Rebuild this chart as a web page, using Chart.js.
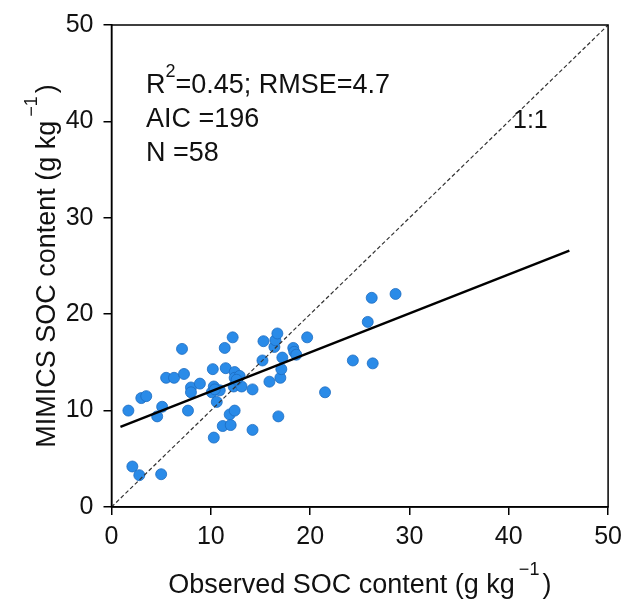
<!DOCTYPE html>
<html>
<head>
<meta charset="utf-8">
<script src="https://cdn.jsdelivr.net/npm/chart.js@4/dist/chart.umd.min.js"></script>
<style>
  html, body { margin: 0; padding: 0; background: #fff; }
  #wrap { width: 629px; height: 602px; position: relative; }
</style>
</head>
<body>
<div id="wrap"><canvas id="socChart"></canvas></div>
<script>
// observed vs MIMICS simulated SOC (g kg-1)
const observedSOC = [
  1.7, 2.1, 2.8, 3.0, 3.5, 4.6, 5.1, 5.0, 5.5, 6.3,
  7.1, 7.3, 7.7, 8.0, 8.0, 8.9, 10.1, 10.2, 10.3, 10.3,
  10.6, 10.9, 11.2, 11.4, 11.5, 11.9, 12.0, 12.2, 12.3, 12.4,
  12.4, 12.4, 12.9, 13.1, 14.2, 14.2, 15.2, 15.3, 15.9, 16.4,
  16.5, 16.7, 16.8, 17.0, 17.1, 17.2, 18.3, 18.4, 18.6, 19.7,
  21.5, 24.3, 25.8, 26.2, 26.3, 28.6, 12.6, 10.4
];
const mimicsSOC = [
  10.0, 4.2, 3.3, 11.3, 11.5, 9.4, 10.4, 3.4, 13.4, 13.4,
  16.4, 13.8, 10.0, 12.4, 11.9, 12.8, 11.9, 14.3, 12.5, 7.2,
  10.9, 12.1, 8.4, 16.5, 14.4, 9.6, 8.5, 17.6, 12.5, 14.0,
  13.4, 10.0, 13.6, 12.5, 12.2, 8.0, 15.2, 17.2, 13.0, 16.6,
  17.3, 18.0, 9.4, 13.4, 14.3, 15.5, 16.5, 16.1, 15.8, 17.6,
  11.9, 15.2, 19.2, 21.7, 14.9, 22.1, 13.2, 12.2
];

// fitted line end points and the 1:1 line
const fitX = [0.9, 46.1];
const fitY = [8.3, 26.6];
const oneToOne = [0, 50];

const axisTicks = [0, 10, 20, 30, 40, 50];
const statsLines = ['=0.45; RMSE=4.7', 'AIC =196', 'N =58'];

const FONT = "'Liberation Sans', Arial, sans-serif";

// draws text pieces, some raised as superscripts
function drawRich(ctx, parts, x, y, align, size, lift) {
  const supSize = Math.round(size * 0.68);
  const fontOf = p => (p.sup ? supSize : size) + 'px ' + FONT;
  let total = 0;
  parts.forEach(p => {
    ctx.font = fontOf(p);
    total += ctx.measureText(p.t).width + (p.gap || 0);
  });
  let cx = align === 'center' ? x - total / 2 : x;
  parts.forEach(p => {
    ctx.font = fontOf(p);
    ctx.fillText(p.t, cx, p.sup ? y - size * lift : y);
    cx += ctx.measureText(p.t).width + (p.gap || 0);
  });
}

const extrasPlugin = {
  id: 'extras',
  afterDraw(chart) {
    const { ctx, chartArea: a } = chart;
    ctx.save();
    // frame
    ctx.strokeStyle = '#000';
    ctx.lineWidth = 1.5;
    ctx.strokeRect(a.left, a.top, a.right - a.left, a.bottom - a.top);

    ctx.fillStyle = '#111';
    ctx.textBaseline = 'alphabetic';
    ctx.textAlign = 'left';

    // stats text
    drawRich(ctx, [{ t: 'R' }, { t: '2', sup: true }, { t: statsLines[0] }], 146, 93, 'left', 27, 0.6);
    ctx.font = '27px ' + FONT;
    ctx.fillText(statsLines[1], 146, 127);
    ctx.fillText(statsLines[2], 146, 161);
    ctx.font = '25px ' + FONT;
    ctx.fillText('1:1', 513, 128);

    const title = lead => [
      { t: lead + ' (g kg', gap: 4 },
      { t: '\u22121', sup: true, gap: 3 },
      { t: ')' }
    ];

    // x title
    drawRich(ctx, title('Observed SOC content'), (a.left + a.right) / 2, 593, 'center', 27, 0.66);

    // y title
    ctx.translate(55, (a.top + a.bottom) / 2);
    ctx.rotate(-Math.PI / 2);
    drawRich(ctx, title('MIMICS SOC content'), 0, 0, 'center', 27, 0.66);
    ctx.restore();
  }
};

const scatterPts = observedSOC.map((v, i) => ({ x: v, y: mimicsSOC[i] }));
const fitPts = fitX.map((v, i) => ({ x: v, y: fitY[i] }));
const diagPts = oneToOne.map(v => ({ x: v, y: v }));

const axisCommon = {
  type: 'linear',
  min: 0,
  max: 50,
  afterBuildTicks: s => { s.ticks = axisTicks.map(v => ({ value: v })); },
  grid: { drawOnChartArea: false, drawTicks: true, tickLength: 8, color: '#000', lineWidth: 1.5 },
  border: { display: true, color: '#000', width: 1.5 },
};

new Chart(document.getElementById('socChart').getContext('2d'), {
  type: 'scatter',
  data: {
    datasets: [
      {
        label: 'sites',
        data: scatterPts,
        backgroundColor: '#2a8be8',
        borderColor: '#1d6cc0',
        borderWidth: 0.8,
        pointRadius: 5.5,
        order: 3
      },
      {
        type: 'line',
        label: 'fit',
        data: fitPts,
        borderColor: '#000',
        borderWidth: 2.4,
        pointRadius: 0,
        fill: false,
        order: 1
      },
      {
        type: 'line',
        label: '1:1',
        data: diagPts,
        borderColor: '#333',
        borderWidth: 1.2,
        borderDash: [4, 2.5],
        pointRadius: 0,
        fill: false,
        order: 2
      }
    ]
  },
  options: {
    responsive: true,
    maintainAspectRatio: false,
    animation: false,
    layout: { padding: { left: 0, right: 18, top: 21, bottom: 0 } },
    scales: {
      x: {
        ...axisCommon,
        afterFit: s => { s.height = 95; },
        ticks: { font: { size: 25, family: FONT }, color: '#111', padding: 7, maxRotation: 0 }
      },
      y: {
        ...axisCommon,
        afterFit: s => { s.width = 111.5; },
        ticks: { font: { size: 25, family: FONT }, color: '#111', padding: 10 }
      }
    },
    plugins: {
      legend: { display: false },
      tooltip: { enabled: false }
    }
  },
  plugins: [extrasPlugin]
});
</script>
</body>
</html>
